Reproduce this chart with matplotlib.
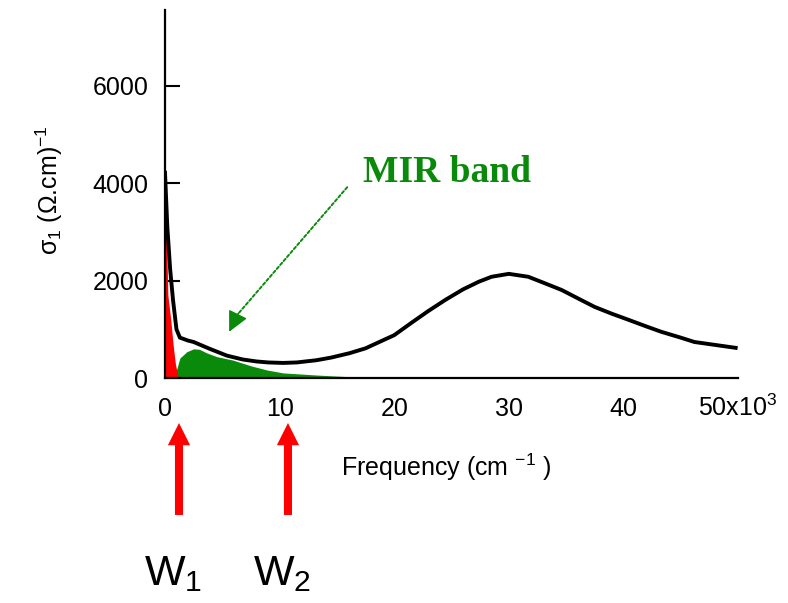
import matplotlib
matplotlib.use("Agg")
import matplotlib.pyplot as plt
import matplotlib.transforms as mtransforms

plt.rcParams['font.family'] = ['Liberation Sans', 'DejaVu Sans']
plt.rcParams['mathtext.fontset'] = 'custom'
plt.rcParams['mathtext.rm'] = 'Liberation Sans'
plt.rcParams['mathtext.it'] = 'Liberation Sans'
plt.rcParams['mathtext.bf'] = 'Liberation Sans:bold'

# ---- data (frequency in 10^3 cm^-1, sigma in (Ohm cm)^-1) ----
freq_total = [0.0, 0.2, 0.45, 0.7, 1.0, 1.3, 2.0, 2.5, 3.9, 5.4, 6.8, 8.0, 9.0,
              10.3, 11.5, 13.2, 14.5, 16.1, 17.5, 18.7, 20.0, 21.6, 23.0, 24.5,
              26.0, 27.4, 28.5, 30.0, 31.7, 33.0, 34.6, 36.0, 37.5, 39.0, 40.4,
              42.0, 43.3, 45.0, 46.2, 48.0, 49.8]
sigma_total = [4220, 3110, 2230, 1600, 1000, 830, 770, 740, 600, 460, 380, 340,
               320, 310, 320, 365, 420, 510, 610, 740, 880, 1150, 1380, 1610,
               1820, 1980, 2080, 2140, 2080, 1960, 1810, 1640, 1460, 1320, 1200,
               1060, 950, 830, 740, 680, 620]

freq_drude = [0.0, 0.12, 0.25, 0.5, 0.7, 0.9, 1.1, 1.25]
sigma_drude = [4080, 3050, 1700, 1200, 700, 300, 60, 0]

freq_mir = [0.8, 1.0, 1.3, 1.9, 2.5, 3.0, 3.6, 4.5, 5.9, 7.5, 8.9, 10.3, 12.0,
            13.2, 15.0, 16.8, 17.0]
sigma_mir = [0, 165, 410, 540, 600, 590, 520, 440, 370, 250, 165, 105, 80,
             62, 40, 18, 0]

x_ticks = [0, 10, 20, 30, 40, 50]
x_tick_labels = ['0', '10', '20', '30', '40', r'50x10$^{3}$']
y_ticks = [0, 2000, 4000, 6000]
y_tick_labels = ['0', '2000', '4000', '6000']
x_minor_ticks = [10, 20]

w_positions = [1.22, 10.73]
w_labels = [r'W$_1$', r'W$_2$']

# ---- figure ----
fig = plt.figure(figsize=(7.88, 6.03), dpi=100)
ax = fig.add_axes([0.2094, 0.3731, 0.7271, 0.6103])

red = '#ff0000'
green = '#0a8a0a'

ax.fill_between(freq_mir, sigma_mir, 0, color=green, lw=0, zorder=2)
ax.fill_between(freq_drude, sigma_drude, 0, color=red, lw=0, zorder=2)
ax.plot(freq_total, sigma_total, color='black', lw=2.8, zorder=3,
        solid_joinstyle='miter')

ax.set_xlim(0, 50)
ax.set_ylim(0, 7560)

for s in ['top', 'right']:
    ax.spines[s].set_visible(False)
for s in ['left', 'bottom']:
    ax.spines[s].set_linewidth(1.6)
    ax.spines[s].set_zorder(4)

ax.set_yticks(y_ticks, y_tick_labels)
ax.tick_params(axis='y', direction='in', length=11, width=1.5, pad=12,
               labelsize=18)
ax.set_xticks(x_ticks, x_tick_labels)
ax.tick_params(axis='x', which='major', length=0, pad=27, labelsize=18)
for lbl in ax.get_xticklabels():
    lbl.set_verticalalignment('baseline')
ax.set_xticks(x_minor_ticks, minor=True)
ax.tick_params(axis='x', which='minor', direction='in', length=11, width=1.2)

ax.set_ylabel(r'$\sigma_1$ ($\Omega$.cm)$^{-1}$', fontsize=18)
ax.yaxis.set_label_coords(-0.175, 0.51)
ax.set_xlabel(r'Frequency (cm $^{-1}$ )', fontsize=18)
ax.xaxis.set_label_coords(0.49, -0.2)

# MIR band annotation
ax.text(17.3, 4020, 'MIR band', color=green, fontsize=27, fontweight='bold',
        family=['Liberation Serif'], ha='left', va='baseline')
ax.annotate('', xy=(6.2, 1270), xytext=(15.9, 3920),
            arrowprops=dict(arrowstyle='-', color=green, lw=1.4,
                            linestyle=(0, (1.5, 1.2)), shrinkA=0, shrinkB=0))
ax.annotate('', xy=(5.6, 950), xytext=(6.4, 1330),
            arrowprops=dict(arrowstyle='-|>,head_length=0.9,head_width=0.45',
                            color=green, lw=1.0, shrinkA=0, shrinkB=0,
                            mutation_scale=14))

# W arrows and labels below the axis
trans = mtransforms.blended_transform_factory(ax.transData, fig.transFigure)
for xw, lab in zip(w_positions, w_labels):
    ax.annotate('', xy=(xw, 0.2985), xytext=(xw, 0.146), xycoords=trans,
                textcoords=trans, annotation_clip=False,
                arrowprops=dict(arrowstyle='simple,head_length=1.6,head_width=1.6,tail_width=0.58',
                                color=red, lw=0, shrinkA=0, shrinkB=0,
                                mutation_scale=10))
    ax.text(xw - 0.5, 1 - 585 / 603, lab, transform=trans, fontsize=31,
            ha='center', va='baseline')

fig.savefig('out.png', dpi=100)
